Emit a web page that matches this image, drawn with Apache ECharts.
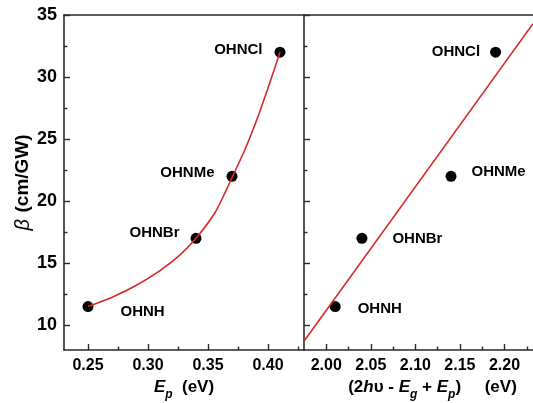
<!DOCTYPE html>
<html>
<head>
<meta charset="utf-8">
<script src="https://cdn.jsdelivr.net/npm/echarts@6/dist/echarts.min.js"></script>
<style>
  html, body { margin: 0; padding: 0; background: #fff; }
  #chart { width: 533px; height: 403px; }
</style>
</head>
<body>
<div id="chart"></div>
<script>
// Two-photon absorption coefficient of the four compounds
const samples = ['OHNH', 'OHNBr', 'OHNMe', 'OHNCl'];
const betaValues = [11.5, 17, 22, 32];           // β (cm/GW)
const epValues = [0.25, 0.34, 0.37, 0.41];        // Ep (eV)
const sumValues = [2.01, 2.04, 2.14, 2.19];       // 2hυ - Eg + Ep (eV)

// Fitted curve β(Ep), sampled along the drawn trend
const epFitX = [0.25, 0.271, 0.29, 0.31, 0.326, 0.34, 0.356, 0.37, 0.381, 0.392, 0.401, 0.41];
const epFitY = [11.5, 12.3, 13.2, 14.4, 15.6, 17.0, 19.1, 21.9, 24.2, 26.9, 29.4, 32.0];

// Linear fit β(2hυ - Eg + Ep), end points
const sumFitX = [1.975, 2.232];
const sumFitY = [8.7, 34.3];

// Tick positions
const betaTicks = [10, 15, 20, 25, 30, 35];
const betaMinor = [12.5, 17.5, 22.5, 27.5, 32.5];
const epTicks = [0.25, 0.30, 0.35, 0.40];
const epMinor = [0.275, 0.325, 0.375, 0.425];
const sumTicks = [2.00, 2.05, 2.10, 2.15, 2.20];
const sumMinor = [2.025, 2.075, 2.125, 2.175, 2.225];

// Label placement next to each dot: [position, dx, dy]
const leftLabelPlace = {
  OHNH: ['right', 22, 5], OHNBr: ['left', -6, -5], OHNMe: ['left', -7, -3], OHNCl: ['left', -7, -2]
};
const rightLabelPlace = {
  OHNH: ['right', 12, 2], OHNBr: ['right', 20, 1], OHNMe: ['right', 10, -4], OHNCl: ['left', -5, 0]
};

const FONT = "'Liberation Sans', Arial, sans-serif";
const INK = '#000';
const AXIS = '#2a2a2a';
const RED = '#d42a2a';

const nameRich = {
  t: { fontFamily: FONT, fontWeight: 'bold', fontSize: 17, color: INK },
  i: { fontFamily: FONT, fontWeight: 'bold', fontStyle: 'italic', fontSize: 17, color: INK },
  s: { fontFamily: FONT, fontWeight: 'bold', fontStyle: 'italic', fontSize: 12, color: INK, padding: [14, 0, 0, 0] }
};

function mainX(grid, min, max, ticks, name, namePad) {
  return {
    type: 'value', gridIndex: grid, position: 'bottom', min, max,
    axisLine: { show: true, lineStyle: { color: AXIS, width: 1.6 } },
    axisTick: { show: true, inside: true, length: 6, customValues: ticks, lineStyle: { color: AXIS, width: 1.4 } },
    axisLabel: {
      show: true, customValues: ticks, margin: 8,
      formatter: v => v.toFixed(2),
      fontFamily: FONT, fontWeight: 'bold', fontSize: 16, color: INK
    },
    splitLine: { show: false },
    name, nameLocation: 'middle', nameGap: 22,
    nameTextStyle: { rich: nameRich, padding: namePad }
  };
}
function minorX(grid, min, max, ticks) {
  return {
    type: 'value', gridIndex: grid, position: 'bottom', min, max,
    axisLine: { show: false },
    axisTick: { show: true, inside: true, length: 3.5, customValues: ticks, lineStyle: { color: AXIS, width: 1.4 } },
    axisLabel: { show: false }, splitLine: { show: false }
  };
}
function topX(grid, min, max) {
  return {
    type: 'value', gridIndex: grid, position: 'top', min, max,
    axisLine: { show: true, lineStyle: { color: AXIS, width: 1.6 } },
    axisTick: { show: false }, axisLabel: { show: false }, splitLine: { show: false }
  };
}
function mainY(grid, withLabels) {
  const ax = {
    type: 'value', gridIndex: grid, position: 'left', min: 8, max: 35,
    axisLine: { show: true, lineStyle: { color: AXIS, width: 1.6 } },
    axisTick: { show: true, inside: true, length: 6, customValues: betaTicks, lineStyle: { color: AXIS, width: 1.4 } },
    axisLabel: {
      show: withLabels, customValues: betaTicks, margin: 7,
      fontFamily: FONT, fontWeight: 'bold', fontSize: 18, color: INK
    },
    splitLine: { show: false }
  };
  if (withLabels) {
    ax.name = '{i|β}  {t|(cm/GW)}';
    ax.nameLocation = 'middle';
    ax.nameRotate = 90;
    ax.nameGap = 30;
    ax.nameTextStyle = {
      rich: {
        t: { fontFamily: FONT, fontWeight: 'bold', fontSize: 19, color: INK },
        i: { fontFamily: FONT, fontStyle: 'italic', fontSize: 20, color: INK }
      }
    };
  }
  return ax;
}
function minorY(grid) {
  return {
    type: 'value', gridIndex: grid, position: 'left', min: 8, max: 35,
    axisLine: { show: false },
    axisTick: { show: true, inside: true, length: 3.5, customValues: betaMinor, lineStyle: { color: AXIS, width: 1.4 } },
    axisLabel: { show: false }, splitLine: { show: false }
  };
}

function dotData(xs, place) {
  return samples.map((s, k) => ({
    name: s,
    value: [xs[k], betaValues[k]],
    label: { position: place[s][0], offset: [place[s][1], place[s][2]] }
  }));
}

const dotStyle = { color: '#000', opacity: 1 };
const dotLabel = { show: true, formatter: '{b}', fontFamily: FONT, fontWeight: 'bold', fontSize: 15, color: INK };

const chart = echarts.init(document.getElementById('chart'), null, { renderer: 'canvas' });
chart.setOption({
  backgroundColor: '#fff',
  animation: false,
  grid: [
    { left: 64, top: 15, width: 240, height: 335, outerBoundsMode: 'none', containLabel: false },
    { left: 304, top: 15, width: 229, height: 335, outerBoundsMode: 'none', containLabel: false }
  ],
  xAxis: [
    mainX(0, 0.23, 0.43, epTicks, '{i|E}{s|p}{t|  (eV)}', [0, 0, 0, 0]),
    minorX(0, 0.23, 0.43, epMinor),
    topX(0, 0.23, 0.43),
    mainX(1, 1.975, 2.232, sumTicks,
      '{t|(2}{i|h}{t|υ - }{i|E}{s|g}{t| + }{i|E}{s|p}{t|)     (eV)}', [0, 0, 0, 28]),
    minorX(1, 1.975, 2.232, sumMinor),
    topX(1, 1.975, 2.232)
  ],
  yAxis: [
    mainY(0, true),
    minorY(0),
    mainY(1, false),
    minorY(1)
  ],
  series: [
    {
      type: 'scatter', xAxisIndex: 0, yAxisIndex: 0, z: 2,
      symbolSize: 11, itemStyle: dotStyle, label: dotLabel,
      data: dotData(epValues, leftLabelPlace)
    },
    {
      type: 'line', xAxisIndex: 0, yAxisIndex: 0, z: 3,
      smooth: 0.25, showSymbol: false, symbol: 'none',
      lineStyle: { color: RED, width: 1.6 },
      data: epFitX.map((x, k) => [x, epFitY[k]])
    },
    {
      type: 'scatter', xAxisIndex: 3, yAxisIndex: 2, z: 2,
      symbolSize: 11, itemStyle: dotStyle, label: dotLabel,
      data: dotData(sumValues, rightLabelPlace)
    },
    {
      type: 'line', xAxisIndex: 3, yAxisIndex: 2, z: 3,
      showSymbol: false, symbol: 'none', clip: true,
      lineStyle: { color: RED, width: 1.6 },
      data: sumFitX.map((x, k) => [x, sumFitY[k]])
    }
  ]
});
</script>
</body>
</html>
